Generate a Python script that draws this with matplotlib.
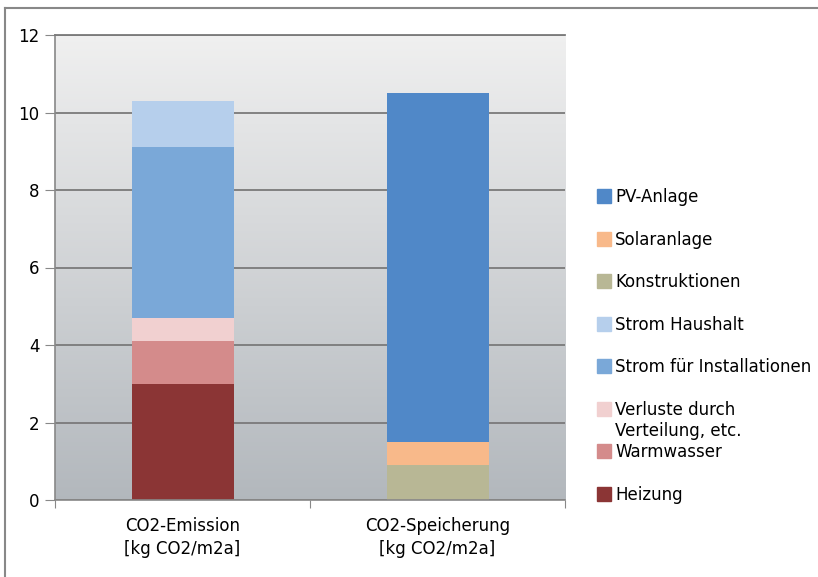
import matplotlib.pyplot as plt
import numpy as np
from matplotlib.patches import Rectangle

# data
categories = ["CO2-Emission\n[kg CO2/m2a]", "CO2-Speicherung\n[kg CO2/m2a]"]
series = ["Heizung", "Warmwasser", "Verluste durch\nVerteilung, etc.",
          "Strom für Installationen", "Strom Haushalt",
          "Konstruktionen", "Solaranlage", "PV-Anlage"]
emission = [3.0, 1.1, 0.6, 4.4, 1.2, 0, 0, 0]
storage = [0, 0, 0, 0, 0, 0.9, 0.6, 9.0]
colors = ["#8b3535", "#d48b8b", "#f1d0d0", "#7aa8d8", "#b6cfec",
          "#b8b795", "#f8b98a", "#5088c8"]
legend_order = ["PV-Anlage", "Solaranlage", "Konstruktionen", "Strom Haushalt",
                "Strom für Installationen", "Verluste durch\nVerteilung, etc.",
                "Warmwasser", "Heizung"]
yticks = [0, 2, 4, 6, 8, 10, 12]

W, H = 818, 577
fig = plt.figure(figsize=(W / 100, H / 100), dpi=100)
ax = fig.add_axes([55 / W, 1 - 500 / H, 510 / W, 465 / H])

# gradient background
grad = np.linspace(0, 1, 256).reshape(-1, 1)
top = np.array([0.94, 0.94, 0.94])
bot = np.array([0.70, 0.72, 0.74])
img = top + (bot - top) * grad[..., None]
ax.imshow(img, extent=(-0.5, 1.5, 0, 12), aspect="auto", zorder=0, origin="upper")

x = np.arange(len(categories))
bottoms = np.zeros(len(categories))
for i, name in enumerate(series):
    vals = np.array([emission[i], storage[i]])
    ax.bar(x, vals, 0.4, bottom=bottoms, color=colors[i], zorder=2, linewidth=0)
    bottoms += vals

ax.set_xlim(-0.5, 1.5)
ax.set_ylim(0, 12)
ax.set_yticks(yticks)
ax.yaxis.grid(True, color="#7a7a7a", linewidth=1.3, zorder=1)
ax.set_axisbelow(True)
ax.tick_params(axis="y", labelsize=12, length=7, color="#888888", pad=4)
ax.set_xticks([-0.5, 0.5, 1.5])
ax.set_xticklabels([])
ax.tick_params(axis="x", which="major", length=6, color="#888888")
ax.set_xticks(x, minor=True)
ax.set_xticklabels(categories, minor=True, fontsize=12, linespacing=1.35)
ax.tick_params(axis="x", which="minor", length=0, pad=12)
ax.spines["right"].set_visible(False)
ax.spines["top"].set_color("#7a7a7a")
ax.spines["top"].set_linewidth(1.3)
for s in ["left", "bottom"]:
    ax.spines[s].set_color("#888888")
    ax.spines[s].set_linewidth(1.2)

# legend
for i, name in enumerate(legend_order):
    cy = 196 + 42.5 * i
    c = colors[series.index(name)]
    fig.patches.append(Rectangle((597 / W, 1 - (cy + 7) / H), 14 / W, 14 / H,
                                 transform=fig.transFigure, color=c))
    fig.text(615 / W, 1 - (cy - 7.6) / H, name, fontsize=12, va="top",
             ha="left", linespacing=1.2)

# outer frame
fig.add_artist(plt.Line2D([5 / W, 5 / W], [0, 1 - 8 / H], color="#888888",
                          lw=1.5, transform=fig.transFigure))
fig.add_artist(plt.Line2D([5 / W, 1], [1 - 8 / H, 1 - 8 / H], color="#888888",
                          lw=1.5, transform=fig.transFigure))

fig.savefig("out.png", dpi=100)
